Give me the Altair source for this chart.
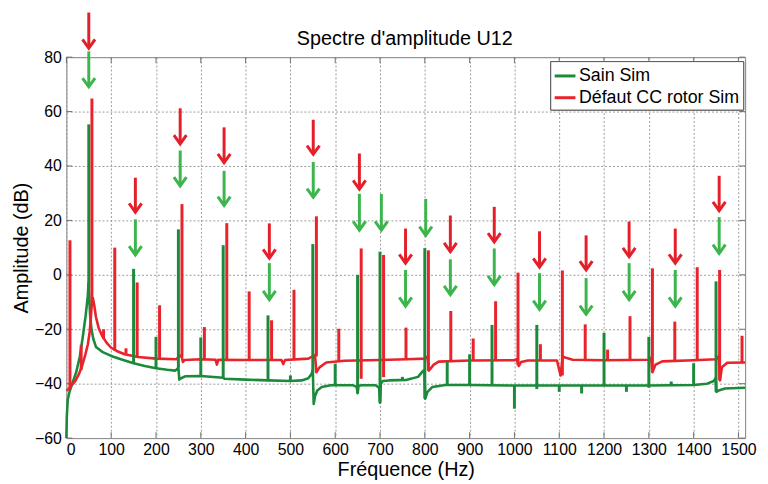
import altair as alt
import pandas as pd

# ---------------- data ----------------
title_text = ["Spectre d'amplitude U12"]
x_ticks = list(range(0, 1501, 100))
y_ticks = list(range(-60, 81, 20))

series_names = ["Sain Sim", "Défaut CC rotor Sim"]
series_colors = ["#1b8a3a", "#e8232b"]

# smooth background of each spectrum (Hz, dB)
sain_base_f = [0, 1, 3, 7, 14, 22, 30, 37, 43, 47.7, 49.5, 51, 53, 56, 60, 66, 80, 100, 125, 150,
               175, 200, 225, 243, 248, 250, 252, 256, 265, 300, 350, 353, 400, 450, 500, 525,
               540, 547, 550, 552, 555, 560, 570, 590, 640, 648, 650, 652, 660, 690, 698, 700,
               702, 706, 720, 760, 785, 795, 799, 801, 806, 817, 846, 900, 995, 1100, 1200,
               1300, 1400, 1430, 1445, 1449, 1451, 1456, 1470, 1515]
sain_base_db = [-60, -52, -46, -43, -39.5, -35.8, -30, -22.4, -15, -8, -3, -8, -15, -20, -23.5,
                -26.5, -28.3, -29.8, -31.2, -32.5, -33.5, -34.3, -34.9, -35.2, -34.5, -34,
                -38.5, -38, -37.3, -37.2, -37.8, -38.2, -38.5, -38.8, -39, -38.8, -38, -36.5,
                -35, -47.5, -44.5, -42.5, -41.2, -40.6, -40.6, -41.2, -43.5, -40.8, -40.6,
                -40.6, -41.5, -47, -40, -39, -38.8, -38.6, -37.5, -35.5, -35, -45.5, -43,
                -41.2, -40.5, -40.5, -40.7, -40.7, -40.7, -40.7, -40.5, -40, -39, -38, -43,
                -42.5, -41.8, -41.5]

defaut_base_f = [0, 5, 12, 20, 28, 35, 42, 48, 52, 55, 57, 59, 62, 66, 72, 80, 90, 100, 115, 130,
                 160, 200, 245, 257, 260, 264, 300, 333, 336, 339, 400, 480, 484, 488, 540, 555,
                 558, 565, 580, 620, 700, 760, 800, 806, 809, 820, 831, 900, 1000, 1005, 1010,
                 1015, 1030, 1095, 1103, 1108, 1115, 1130, 1200, 1300, 1305, 1308, 1315, 1330,
                 1400, 1450, 1456, 1459, 1463, 1475, 1515]
defaut_base_db = [-42.5, -42, -40.5, -39, -36.5, -33.5, -29.5, -25.5, -21, -15, -10, -8.5, -11,
                  -15.5, -19.5, -22.5, -25, -26.8, -28.2, -29.2, -30.2, -30.8, -31, -29.5, -32,
                  -31.3, -31, -31.2, -33, -31.2, -31.3, -31.3, -32.8, -31.3, -30.8, -29.5, -35.8,
                  -34, -32.2, -31.6, -31.3, -31, -30.8, -30, -35.2, -33, -31.9, -31.5, -31.4, -31,
                  -33.5, -32, -31.5, -31.5, -37, -30, -30.5, -31.2, -31.4, -31.2, -30.5, -35.8,
                  -33, -31.8, -31.4, -31, -30, -38.8, -34, -32.3, -32.2]

# narrow spectral lines: frequency, bottom and top (dB)
sain_spike_f = [50, 150, 200, 250, 300, 350, 450, 500, 550, 600, 650, 700, 750, 800, 850, 900,
                950, 1000, 1050, 1100, 1150, 1200, 1250, 1300, 1350, 1400, 1450]
sain_spike_lo = [-5, -32.5, -34.3, -34, -37.5, -37.8, -38.8, -39, -36, -40.6, -43.5, -47, -38.6,
                 -45.5, -40.5, -40.5, -40.7, -49.2, -42, -43, -43.6, -40.7, -43, -41.5, -40.7,
                 -40.5, -43]
sain_spike_hi = [55.3, 2.2, -22.8, 16.7, -23, 10.9, -14.9, -37, 11.3, -32.7, 0, 8.5, -37.5, 9.8,
                 -32, -29.2, -18.4, -40.7, -18.4, -40.7, -40.7, -21.3, -40.7, -22.8, -39.2,
                 -32.5, -2.4]

defaut_spike_f = [8, 33, 57, 83, 108, 133, 158, 208, 258, 308, 358, 408, 458, 508, 558, 608, 658,
                  708, 758, 808, 858, 908, 958, 1008, 1058, 1107, 1158, 1208, 1258, 1308, 1358,
                  1408, 1458, 1508]
defaut_spike_lo = [-42, -35, -10, -23.5, -27.8, -29, -30.2, -30.8, -30, -31, -31.2, -31.3, -31.3,
                   -31.3, -30, -31.6, -38.2, -37.6, -31, -35.2, -31.5, -31.5, -31.5, -33.3, -31.5,
                   -37, -31.4, -31.4, -31.3, -35.8, -31.3, -31.3, -38.8, -32.2]
defaut_spike_hi = [12.7, -25.7, 64.8, -20, 10, -27, -2.8, -11.2, 26, -19.2, 19, -6.1, -16.7, -5.5,
                   21.5, -19.8, 9.7, 7.3, -19.4, 9, -13.3, -23.4, -9.7, 0.8, -25.5, 1.6, -18.2,
                   -27.5, -15.2, 2.4, -17.2, 2.8, 1.8, -22.4]

# annotation arrows: frequency, tail (dB) and tip (dB)
arrow_red_f = [50, 154, 254, 352, 453, 551, 654, 757, 857, 955, 1056, 1160, 1256, 1359, 1457]
arrow_red_top = [96.4, 35.7, 61.2, 54.2, 18.9, 57.0, 44.6, 17.0, 21.8, 25.0, 16.0, 14.5, 19.6,
                 17.0, 36.4]
arrow_red_tip = [83.3, 23.0, 48.1, 41.2, 6.1, 44.3, 31.5, 4.3, 8.5, 12.1, 2.8, 1.8, 6.7, 4.3, 23.6]

arrow_green_f = [50, 154, 254, 352, 453, 551, 654, 703, 757, 802, 857, 955, 1056, 1160, 1256,
                 1359, 1457]
arrow_green_top = [82.1, 20.4, 45.7, 38.2, 4.3, 41.5, 29.8, 29.7, 1.8, 27.9, 5.7, 9.7, 0.6, -1.2,
                   4.3, 1.8, 21.2]
arrow_green_tip = [69.1, 7.3, 32.7, 25.5, -9.1, 28.5, 16.4, 16.4, -11.5, 14.5, -7.3, -3.6, -12.7,
                   -14.5, -9.1, -11.5, 7.9]

# ---------------- tables ----------------
base = pd.concat([
    pd.DataFrame({"f": sain_base_f, "db": sain_base_db, "serie": series_names[0]}),
    pd.DataFrame({"f": defaut_base_f, "db": defaut_base_db, "serie": series_names[1]}),
])
spikes = pd.concat([
    pd.DataFrame({"f": sain_spike_f, "lo": sain_spike_lo, "hi": sain_spike_hi,
                  "serie": series_names[0]}),
    pd.DataFrame({"f": defaut_spike_f, "lo": defaut_spike_lo, "hi": defaut_spike_hi,
                  "serie": series_names[1]}),
])
arrows = pd.concat([
    pd.DataFrame({"f": arrow_red_f, "top": arrow_red_top, "tip": arrow_red_tip, "c": "#e3202a"}),
    pd.DataFrame({"f": arrow_green_f, "top": arrow_green_top, "tip": arrow_green_tip,
                  "c": "#3db54d"}),
])
xt = pd.DataFrame({"v": x_ticks})
yt = pd.DataFrame({"v": y_ticks})
tt = pd.DataFrame({"t": title_text})

FONT = "Liberation Sans"
W, H = 686, 385

xscale = alt.Scale(domain=[0, 1515], nice=False, zero=False)
yscale = alt.Scale(domain=[-60, 80], nice=False, zero=False)
color = alt.Color("serie:N",
                  scale=alt.Scale(domain=series_names, range=series_colors),
                  legend=alt.Legend(title=None, orient="none", legendX=489, legendY=4,
                                    direction="vertical", fillColor="white",
                                    strokeColor="#555555", padding=3,
                                    symbolType="stroke", symbolStrokeWidth=3,
                                    symbolSize=441, labelFont=FONT, labelFontSize=18,
                                    labelColor="black", labelOffset=2, rowPadding=1,
                                    labelLimit=300))

xaxis = alt.Axis(values=x_ticks, title="Fréquence (Hz)", grid=True, format="d")
yaxis = alt.Axis(values=y_ticks, title="Amplitude (dB)", grid=True, format="d")

lines = alt.Chart(base).mark_line(strokeWidth=2.6, strokeJoin="round").encode(
    x=alt.X("f:Q", scale=xscale, axis=xaxis),
    y=alt.Y("db:Q", scale=yscale, axis=yaxis),
    color=color,
    detail="serie:N",
    order="f:Q",
)

spike_rules = alt.Chart(spikes).mark_rule(strokeWidth=3).encode(
    x="f:Q", y="lo:Q", y2="hi:Q", color=color,
)

shafts = alt.Chart(arrows).mark_rule(strokeWidth=3).encode(
    x="f:Q", y="top:Q", y2="tip:Q", color=alt.Color("c:N", scale=None),
)
heads = alt.Chart(arrows).mark_point(
    shape="M-1,-1.4L0,0L1,-1.4", size=160, filled=False, strokeWidth=3, opacity=1,
    strokeJoin="miter",
).encode(
    x="f:Q", y="tip:Q", color=alt.Color("c:N", scale=None),
)

tick_col = "#707070"
ticks_b = alt.Chart(xt).mark_rule(color=tick_col, strokeWidth=1).encode(
    x="v:Q", y=alt.value(H), y2=alt.value(H - 6))
ticks_t = alt.Chart(xt).mark_rule(color=tick_col, strokeWidth=1).encode(
    x="v:Q", y=alt.value(0), y2=alt.value(6))
ticks_l = alt.Chart(yt).mark_rule(color=tick_col, strokeWidth=1).encode(
    y="v:Q", x=alt.value(0), x2=alt.value(6))
ticks_r = alt.Chart(yt).mark_rule(color=tick_col, strokeWidth=1).encode(
    y="v:Q", x=alt.value(W), x2=alt.value(W - 6))

title = alt.Chart(tt).mark_text(
    font=FONT, fontSize=20, color="black", baseline="alphabetic", align="center"
).encode(text="t:N", x=alt.value(342), y=alt.value(-12))

chart = alt.layer(
    ticks_b, ticks_t, ticks_l, ticks_r, lines, spike_rules, shafts, heads, title
).resolve_scale(color="independent").properties(
    width=W, height=H,
    autosize=alt.AutoSizeParams(type="none"),
    padding={"left": 59, "top": 47, "right": 15, "bottom": 70},
).configure_view(
    stroke="#808080", strokeWidth=1
).configure_axis(
    domain=False, ticks=False,
    gridColor="#9a9a9a", gridDash=[2, 2], gridWidth=1,
    labelFont=FONT, labelFontSize=16, labelColor="black",
    titleFont=FONT, titleFontSize=20, titleFontWeight="normal", titleColor="black",
).configure_axisX(
    labelPadding=4, titlePadding=2,
).configure_axisY(
    labelPadding=5, titlePadding=3,
)

chart.save("out.html", embed_options={"renderer": "svg", "actions": False})
